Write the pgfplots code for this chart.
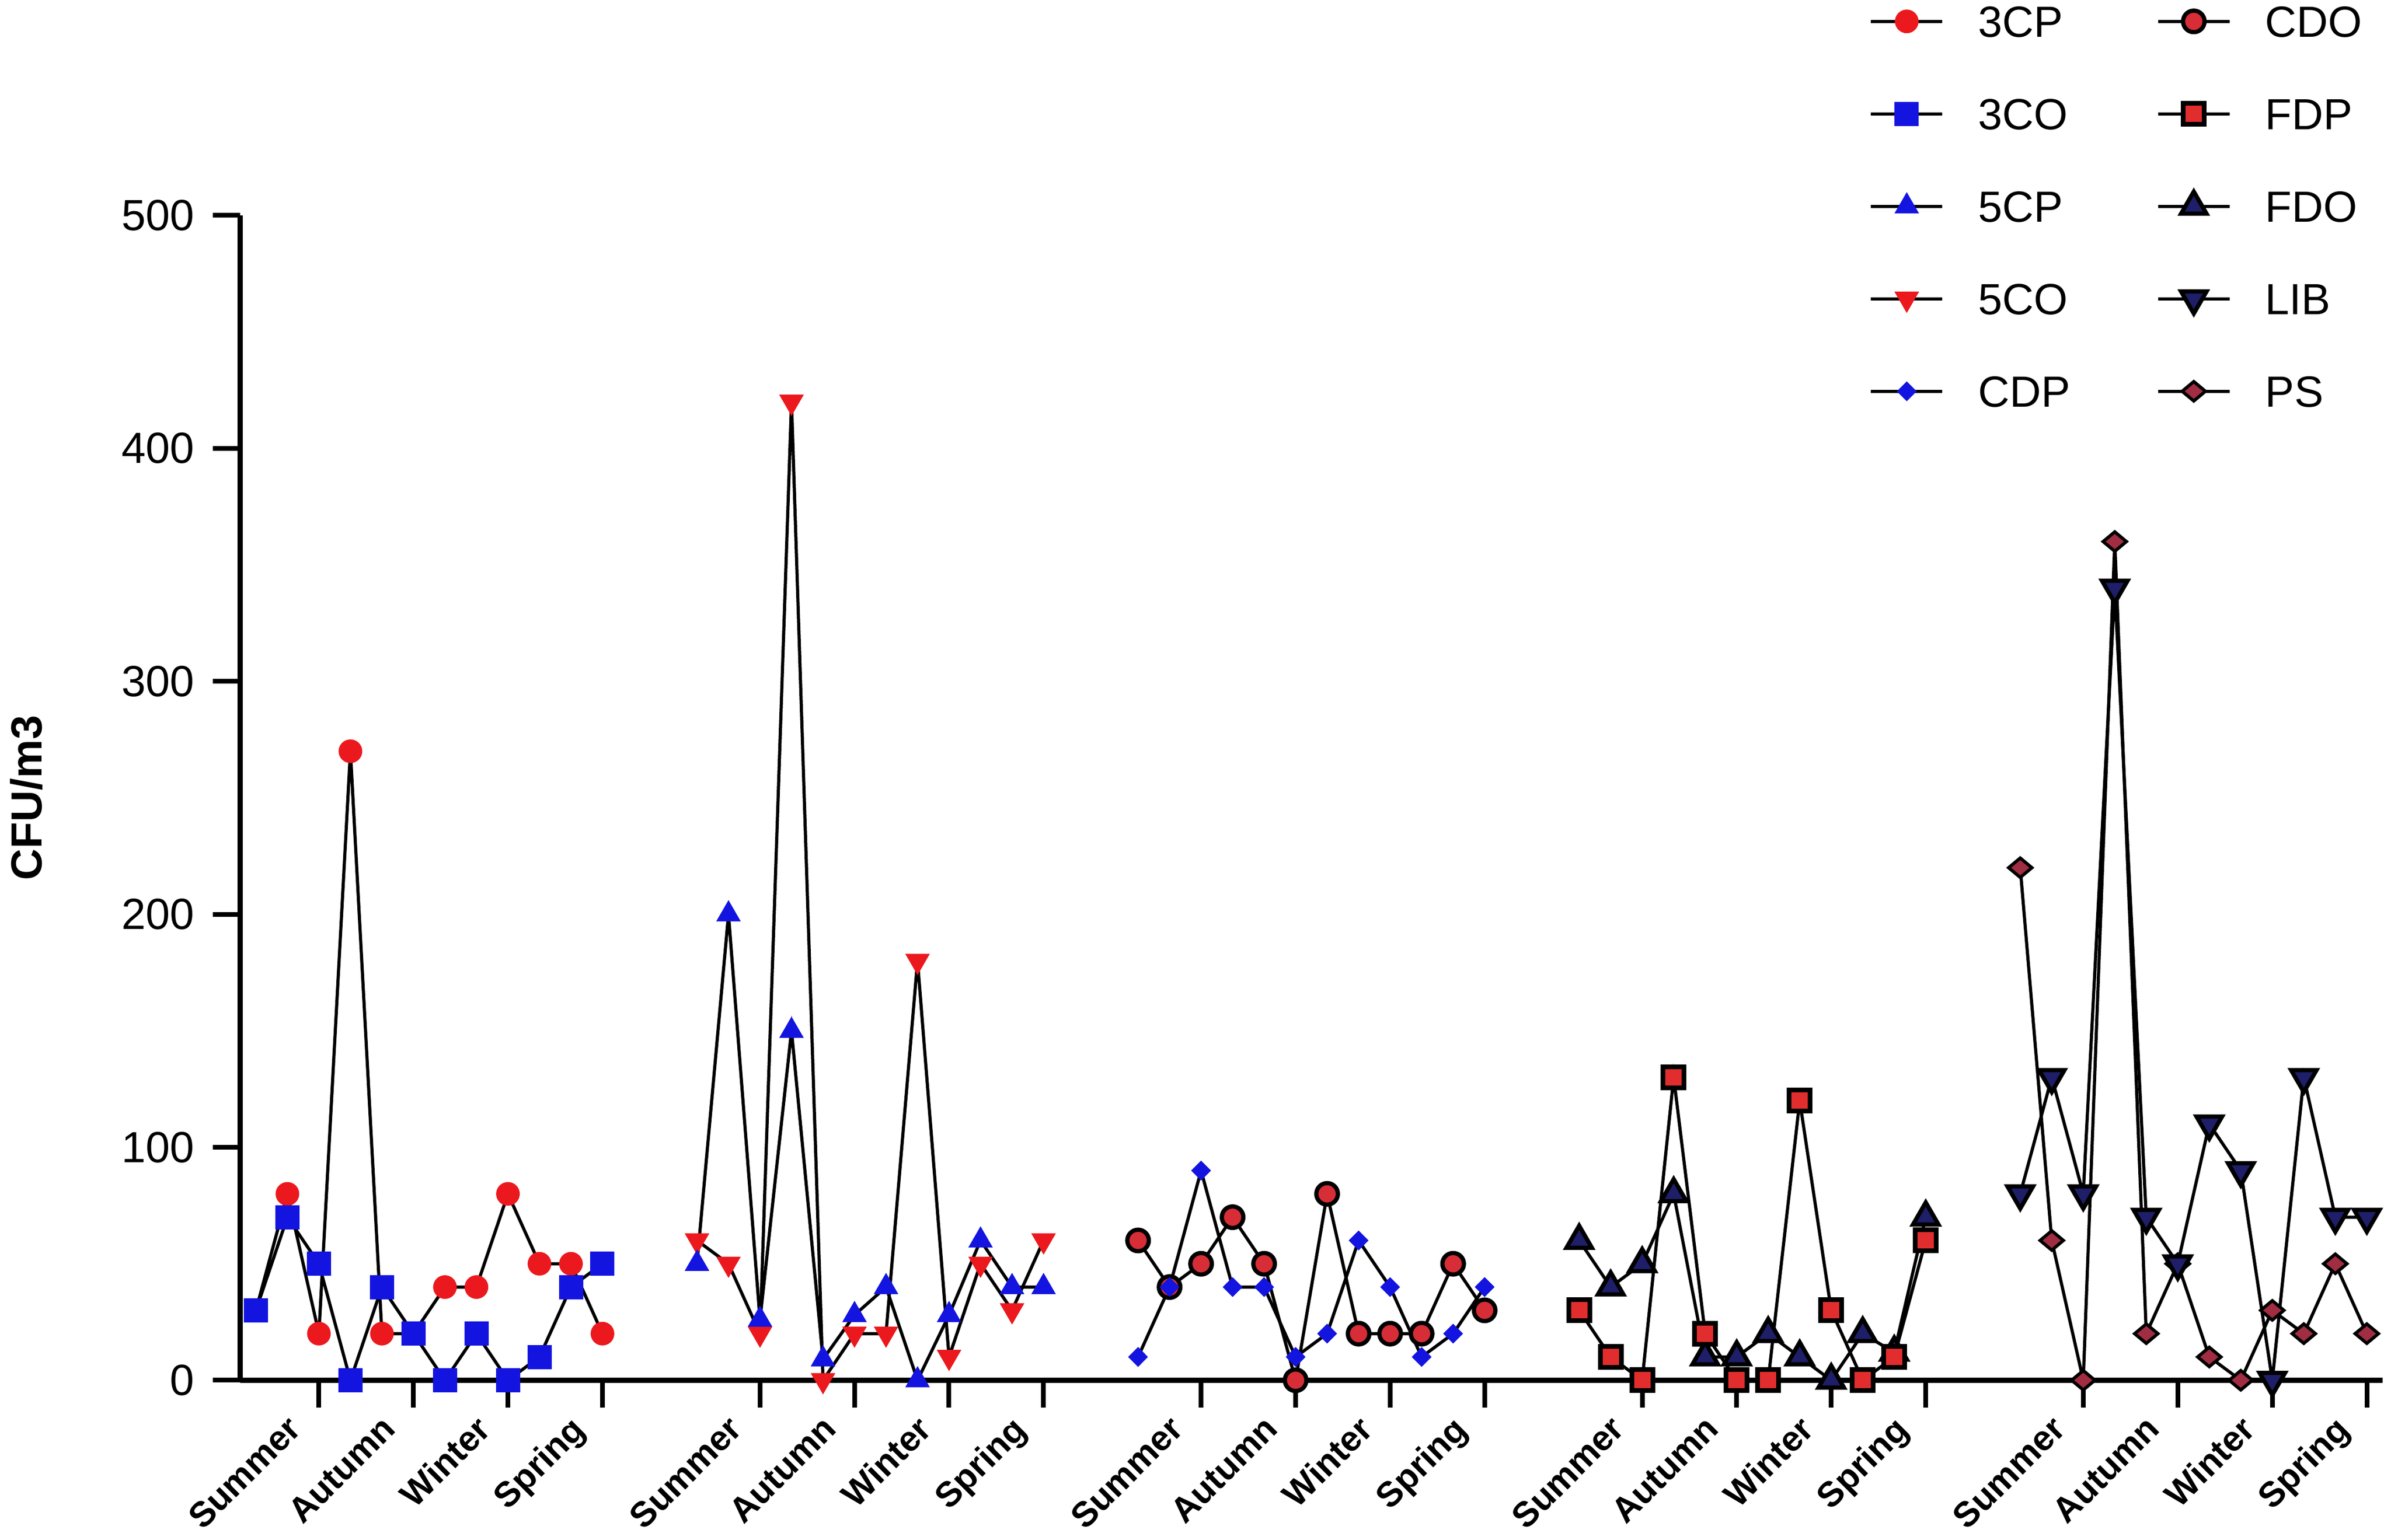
\documentclass[border=0pt]{standalone}
\usepackage{fontspec}
\setmainfont{Liberation Sans}
\usepackage{pgfplots}
\usepackage{pgfplotstable}
\pgfplotsset{compat=1.18}
\definecolor{cred}{RGB}{235,25,30}
\definecolor{cblue}{RGB}{20,20,225}
\definecolor{ccdo}{RGB}{215,45,55}
\definecolor{cfdp}{RGB}{225,45,45}
\definecolor{cnavy}{RGB}{30,30,105}
\definecolor{cps}{RGB}{160,45,65}

\pgfplotstableread{
x a b
0 30 30
1 80 70
2 20 50
3 270 0
4 20 40
5 20 20
6 40 0
7 40 20
8 80 0
9 50 10
10 50 40
11 20 50
}\gA
\pgfplotstableread{
x a b
14 50 60
15 200 50
16 26 20
17 150 420
18 9 0
19 28 20
20 40 20
21 0 180
22 28 10
23 60 50
24 40 30
25 40 60
}\gB
\pgfplotstableread{
x a b
28 10 60
29 40 40
30 90 50
31 40 70
32 40 50
33 10 0
34 20 80
35 60 20
36 40 20
37 10 20
38 20 50
39 40 30
}\gC
\pgfplotstableread{
x a b
42 30 60
43 10 40
44 0 50
45 130 80
46 20 10
47 0 10
48 0 20
49 120 10
50 30 0
51 0 20
52 10 12
53 60 70
}\gD
\pgfplotstableread{
x a b
56 220 80
57 60 130
58 0 80
59 360 340
60 20 70
61 50 50
62 10 110
63 0 90
64 30 0
65 20 130
66 50 70
67 20 70
}\gE

\pgfplotsset{
 ln/.style={black, line width=0.6pt},
 s3CP/.style={ln, mark=*, mark size=2.15pt, mark options={solid, fill=cred, draw=cred, line width=0.2pt}},
 s3CO/.style={ln, mark=square*, mark size=2.2pt, mark options={solid, fill=cblue, draw=cblue, line width=0.2pt}},
 s5CP/.style={ln, mark=triangle*, mark size=2.5pt, mark options={solid, fill=cblue, draw=cblue, line width=0.2pt}},
 s5CO/.style={ln, mark=triangle*, mark size=2.5pt, mark options={solid, rotate=180, fill=cred, draw=cred, line width=0.2pt}},
 sCDP/.style={ln, mark=diamond*, mark size=1.75pt, mark options={solid, xscale=1.33, fill=cblue, draw=cblue, line width=0.2pt}},
 sCDO/.style={ln, mark=*, mark size=2.05pt, mark options={solid, fill=ccdo, draw=black, line width=0.8pt}},
 sFDP/.style={ln, mark=square*, mark size=2.0pt, mark options={solid, fill=cfdp, draw=black, line width=0.9pt}},
 sFDO/.style={ln, mark=triangle*, mark size=2.8pt, mark options={solid, fill=cnavy, draw=black, line width=0.8pt}},
 sLIB/.style={ln, mark=triangle*, mark size=2.8pt, mark options={solid, rotate=180, fill=cnavy, draw=black, line width=0.8pt}},
 sPS/.style={ln, mark=diamond*, mark size=1.85pt, mark options={solid, xscale=1.6, fill=cps, draw=black, line width=0.6pt}},
}

\begin{document}
\begin{tikzpicture}
\begin{axis}[
 name=ax, at={(0,0)}, anchor=south west,
 scale only axis, width=407.7pt, height=221.7pt,
 xmin=-0.5, xmax=67.5, ymin=0, ymax=500,
 axis lines=left, axis line style={-, line width=1pt, black},
 clip=false,
 xtick={2,5,8,11,16,19,22,25,30,33,36,39,44,47,50,53,58,61,64,67},
 xticklabels={Summer,Autumn,Winter,Spring,Summer,Autumn,Winter,Spring,Summer,Autumn,Winter,Spring,Summer,Autumn,Winter,Spring,Summer,Autumn,Winter,Spring},
 ytick={0,100,200,300,400,500},
 minor tick num=0,
 xtick pos=left, ytick pos=left,
 tick align=outside, major tick length=5.2pt,
 tick style={black, line width=0.9pt},
 /pgf/number format/assume math mode=true,
 yticklabel style={font=\fontsize{8.3}{10}\selectfont},
 xticklabel style={font=\bfseries\fontsize{6.7}{8}\selectfont, xshift=-6.4pt, yshift=0.5pt, rotate=45, anchor=north east, inner sep=1pt},
 ylabel={CFU/m3},
 ylabel style={font=\bfseries\fontsize{8.3}{10}\selectfont, at={(axis description cs:-0.0998,0.5)}, anchor=center},
 legend columns=2,
 legend cell align=left,
 legend image code/.code={\draw[mark repeat=2,mark phase=2] plot coordinates {(0pt,0pt) (6.8pt,0pt) (13.6pt,0pt)};},
 legend style={draw=none, fill=none, inner sep=0pt, font=\fontsize{8.3}{10}\selectfont,
   at={(axis description cs:0.760,1.181)}, anchor=north west,
   column sep=6.5pt, row sep=11.6pt,
   nodes={inner sep=0pt, text height=6pt, text depth=0pt},
   /tikz/every even column/.append style={column sep=16.4pt}},
]
\addplot[s3CP, forget plot] table[x=x, y=a] {\gA};
\addplot[s3CO, forget plot] table[x=x, y=b] {\gA};
\addplot[s5CO, forget plot] table[x=x, y=b] {\gB};
\addplot[s5CP, forget plot] table[x=x, y=a] {\gB};
\addplot[sCDO, forget plot] table[x=x, y=b] {\gC};
\addplot[sCDP, forget plot] table[x=x, y=a] {\gC};
\addplot[sFDO, forget plot] table[x=x, y=b] {\gD};
\addplot[sFDP, forget plot] table[x=x, y=a] {\gD};
\addplot[sPS, forget plot] table[x=x, y=a] {\gE};
\addplot[sLIB, forget plot] table[x=x, y=b] {\gE};

\addlegendimage{s3CP}\addlegendentry{3CP}
\addlegendimage{sCDO}\addlegendentry{CDO}
\addlegendimage{s3CO}\addlegendentry{3CO}
\addlegendimage{sFDP}\addlegendentry{FDP}
\addlegendimage{s5CP}\addlegendentry{5CP}
\addlegendimage{sFDO}\addlegendentry{FDO}
\addlegendimage{s5CO}\addlegendentry{5CO}
\addlegendimage{sLIB}\addlegendentry{LIB}
\addlegendimage{sCDP}\addlegendentry{CDP}
\addlegendimage{sPS}\addlegendentry{PS}
\end{axis}
\pgfresetboundingbox
\path[use as bounding box] (-45.7pt,-30.4pt) rectangle (409.3pt,262.7pt);
\end{tikzpicture}
\end{document}
